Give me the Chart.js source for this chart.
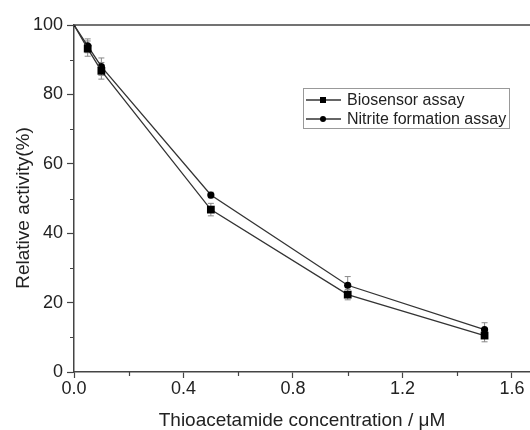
<!DOCTYPE html>
<html>
<head>
<meta charset="utf-8">
<script src="https://cdn.jsdelivr.net/npm/chart.js@4.4.0/dist/chart.umd.min.js"></script>
<style>
  html, body { margin: 0; padding: 0; background: #fff; }
</style>
</head>
<body>
<canvas id="chart" width="530" height="430"></canvas>
<script>
// data
const concentrations = [0, 0.05, 0.1, 0.5, 1.0, 1.5];
const biosensorValues = [100, 93.2, 86.8, 46.8, 22.3, 10.5];
const biosensorErrors = [0, 2.2, 2.4, 1.8, 1.5, 1.8];
const nitriteValues = [100, 94, 88, 51, 25, 12.2];
const nitriteErrors = [0, 2, 2.5, 0.8, 2.5, 2];
const xTicks = [0, 0.2, 0.4, 0.6, 0.8, 1.0, 1.2, 1.4, 1.6];
const yTicks = [0, 10, 20, 30, 40, 50, 60, 70, 80, 90, 100];
const seriesNames = ['Biosensor assay', 'Nitrite formation assay'];

const FONT = '"Liberation Sans", Arial, sans-serif';
const AXIS = '#444';
const TEXT = '#222';

function isMajorX(v) { return Math.round(v * 10) % 4 === 0; }
function isMajorY(v) { return Math.round(v) % 20 === 0; }

function points(values) {
    return concentrations.map((x, i) => ({ x: x, y: values[i] }));
}

const extras = {
    id: 'extras',
    beforeDatasetsDraw(chart) {
        const ctx = chart.ctx;
        const xs = chart.scales.x, ys = chart.scales.y;
        const errs = [biosensorErrors, nitriteErrors];
        const vals = [biosensorValues, nitriteValues];
        ctx.save();
        ctx.strokeStyle = '#888';
        ctx.lineWidth = 1;
        errs.forEach((e, d) => {
            concentrations.forEach((c, i) => {
                if (!e[i]) return;
                const px = xs.getPixelForValue(c);
                const top = ys.getPixelForValue(vals[d][i] + e[i]);
                const bot = ys.getPixelForValue(vals[d][i] - e[i]);
                ctx.beginPath();
                ctx.moveTo(px, top); ctx.lineTo(px, bot);
                ctx.moveTo(px - 3, top); ctx.lineTo(px + 3, top);
                ctx.moveTo(px - 3, bot); ctx.lineTo(px + 3, bot);
                ctx.stroke();
            });
        });
        ctx.restore();
    },
    afterDraw(chart) {
        const ctx = chart.ctx;
        const area = chart.chartArea;
        const xs = chart.scales.x, ys = chart.scales.y;
        ctx.save();
        // top frame line
        ctx.strokeStyle = AXIS;
        ctx.lineWidth = 1.5;
        ctx.beginPath();
        ctx.moveTo(area.left, area.top);
        ctx.lineTo(area.right, area.top);
        ctx.stroke();
        // minor ticks
        ctx.lineWidth = 1.2;
        ctx.beginPath();
        xTicks.filter(v => !isMajorX(v)).forEach(v => {
            const px = Math.round(xs.getPixelForValue(v)) + 0.5;
            ctx.moveTo(px, area.bottom);
            ctx.lineTo(px, area.bottom + 4);
        });
        yTicks.filter(v => !isMajorY(v)).forEach(v => {
            const py = Math.round(ys.getPixelForValue(v)) + 0.5;
            ctx.moveTo(area.left, py);
            ctx.lineTo(area.left - 4, py);
        });
        ctx.stroke();
        // y axis title
        ctx.fillStyle = TEXT;
        ctx.font = '19px ' + FONT;
        ctx.textAlign = 'center';
        ctx.textBaseline = 'middle';
        ctx.translate(24, 208);
        ctx.rotate(-Math.PI / 2);
        ctx.fillText('Relative activity(%)', 0, 0);
        ctx.restore();

        // legend box
        ctx.save();
        ctx.strokeStyle = '#999';
        ctx.lineWidth = 1;
        ctx.strokeRect(303.5, 88.5, 206, 40);
        ctx.font = '16px ' + FONT;
        ctx.fillStyle = TEXT;
        ctx.textAlign = 'left';
        ctx.textBaseline = 'middle';
        seriesNames.forEach((name, i) => {
            const y = 100 + i * 19;
            ctx.strokeStyle = '#333';
            ctx.lineWidth = 1.3;
            ctx.beginPath();
            ctx.moveTo(306, y); ctx.lineTo(341, y);
            ctx.stroke();
            ctx.fillStyle = '#000';
            ctx.beginPath();
            if (i === 0) ctx.rect(320, y - 3, 6, 6);
            else ctx.arc(323, y, 3, 0, Math.PI * 2);
            ctx.fill();
            ctx.fillStyle = TEXT;
            ctx.fillText(name, 347, y + 1);
        });
        ctx.restore();
    }
};

new Chart(document.getElementById('chart'), {
    type: 'scatter',
    data: {
        datasets: [
            {
                label: seriesNames[0],
                data: points(biosensorValues),
                showLine: true,
                borderColor: '#333',
                borderWidth: 1.3,
                pointStyle: 'rect',
                pointRadius: c => c.dataIndex === 0 ? 2 : 5.5,
                pointBackgroundColor: '#000',
                pointBorderColor: '#000',
                pointBorderWidth: 0
            },
            {
                label: seriesNames[1],
                data: points(nitriteValues),
                showLine: true,
                borderColor: '#333',
                borderWidth: 1.3,
                pointStyle: 'circle',
                pointRadius: c => c.dataIndex === 0 ? 1.5 : 3.6,
                pointBackgroundColor: '#000',
                pointBorderColor: '#000',
                pointBorderWidth: 0
            }
        ]
    },
    options: {
        responsive: false,
        animation: false,
        layout: { autoPadding: false, padding: { top: 25, right: 0, left: 0, bottom: 0 } },
        plugins: {
            legend: { display: false },
            tooltip: { enabled: false }
        },
        scales: {
            x: {
                type: 'linear',
                min: 0,
                max: 1.666,
                afterBuildTicks: s => { s.ticks = xTicks.map(v => ({ value: v })); },
                afterFit: s => { s.height = 58; s.paddingRight = 0; s.paddingLeft = 0; },
                grid: {
                    drawOnChartArea: false,
                    tickLength: 6,
                    tickWidth: 1.2,
                    tickColor: c => isMajorX(c.tick.value) ? AXIS : 'rgba(0,0,0,0)'
                },
                border: { color: AXIS, width: 1.5 },
                ticks: {
                    autoSkip: false,
                    maxRotation: 0,
                    padding: 0,
                    color: TEXT,
                    font: { family: FONT, size: 18 },
                    callback: v => isMajorX(v) ? v.toFixed(1) : ''
                },
                title: {
                    display: true,
                    text: 'Thioacetamide concentration / μM',
                    color: TEXT,
                    font: { family: FONT, size: 19 },
                    padding: { top: 0, bottom: -2 }
                }
            },
            y: {
                min: 0,
                max: 100,
                afterBuildTicks: s => { s.ticks = yTicks.map(v => ({ value: v })); },
                afterFit: s => { s.width = 74; },
                grid: {
                    drawOnChartArea: false,
                    tickLength: 7,
                    tickWidth: 1.2,
                    tickColor: c => isMajorY(c.tick.value) ? AXIS : 'rgba(0,0,0,0)'
                },
                border: { color: AXIS, width: 1.5 },
                ticks: {
                    autoSkip: false,
                    padding: 4,
                    color: TEXT,
                    font: { family: FONT, size: 18 },
                    callback: v => isMajorY(v) ? String(v) : ''
                }
            }
        }
    },
    plugins: [extras]
});
</script>
</body>
</html>
